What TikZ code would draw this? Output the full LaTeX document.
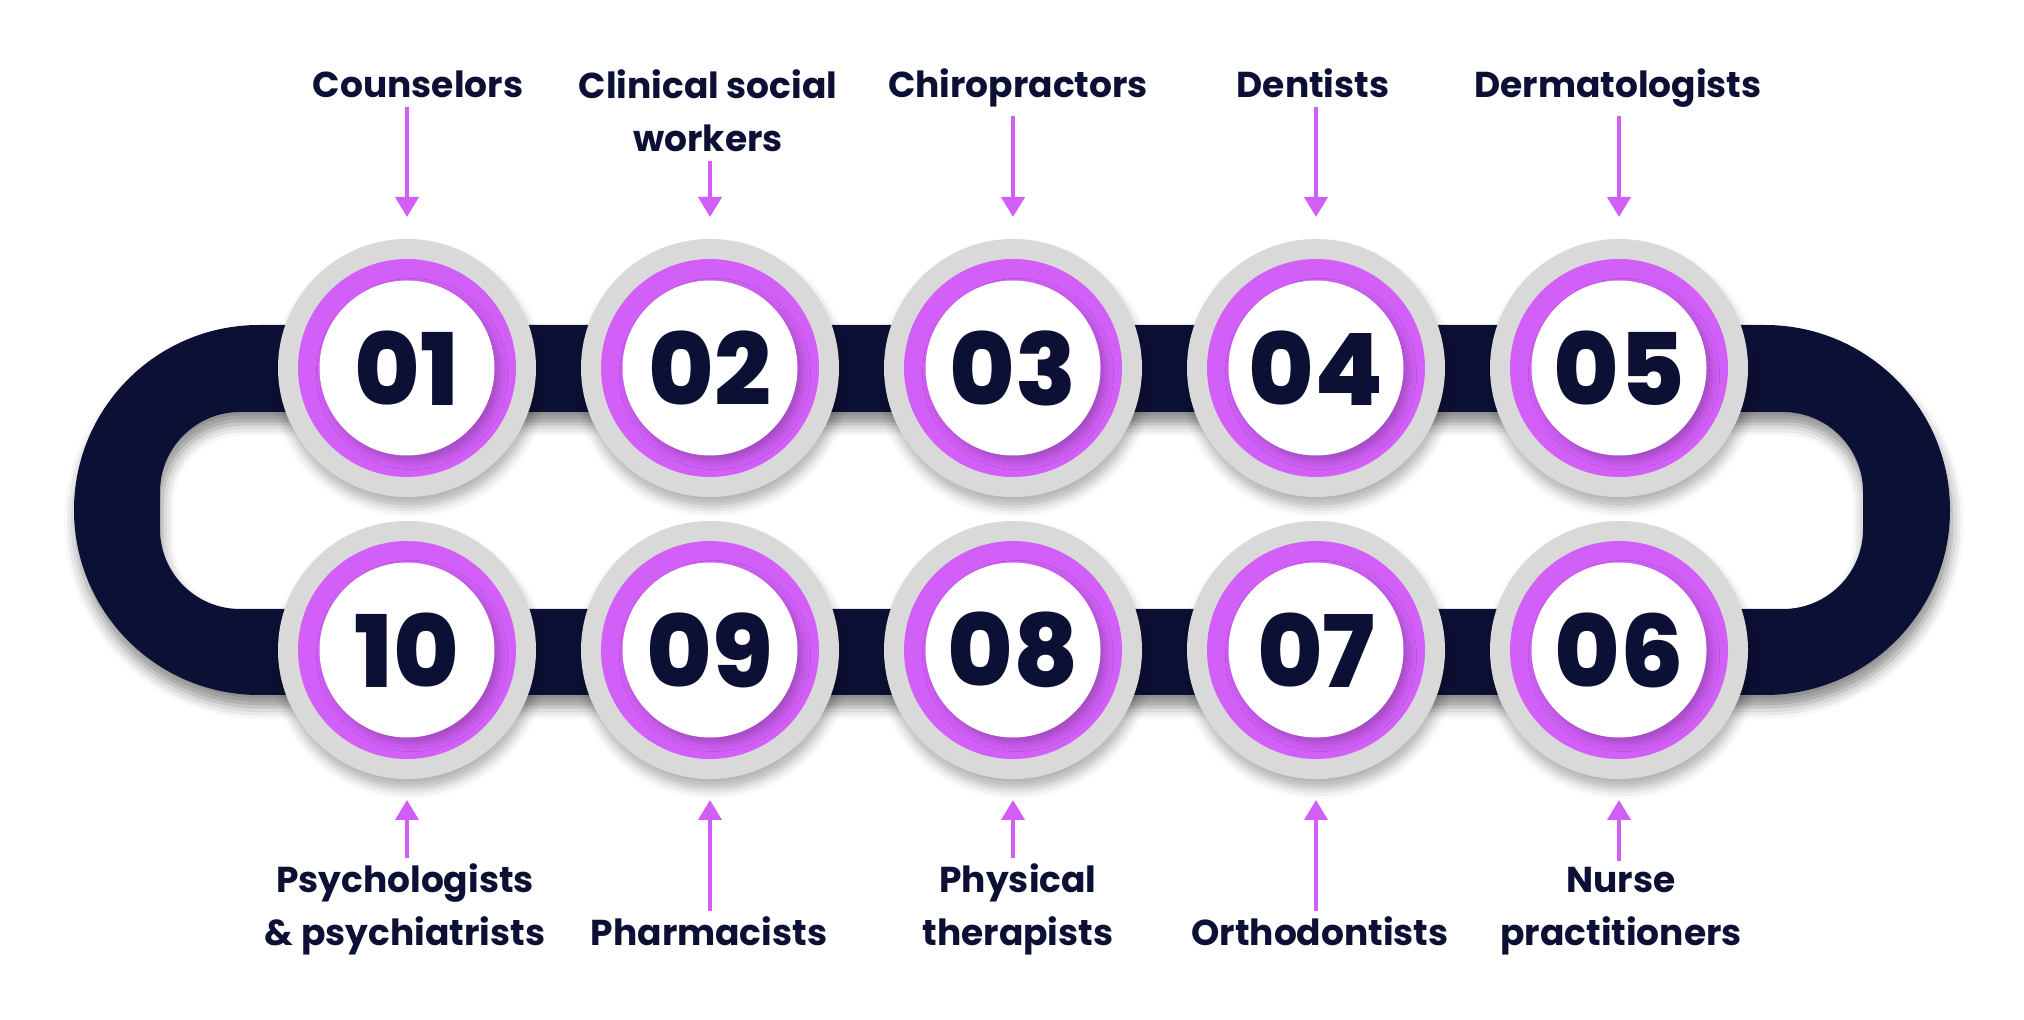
\documentclass[tikz,border=0pt]{standalone}
\usepackage{fontspec}
\setmainfont{Poppins}
\newfontfamily\digitfont{Poppins}[UprightFont={* ExtraBold}]
\usepackage{xcolor}
\usetikzlibrary{arrows.meta, shadows.blur}

\definecolor{navy}{HTML}{0D1035}
\definecolor{ringgrey}{HTML}{D9D9D9}
\definecolor{ringpurple}{HTML}{D260F8}
\definecolor{arrowpink}{HTML}{D25EF8}

\begin{document}
\begin{tikzpicture}[x=0.5pt,y=-0.5pt,
    outer/.style={circle,fill=ringgrey,minimum size=129pt,inner sep=0pt,outer sep=0pt,
      blur shadow={shadow xshift=1pt,shadow yshift=-5pt,shadow blur radius=5pt,shadow opacity=30}},
    ring/.style={circle,fill=ringpurple,minimum size=109pt,inner sep=0pt},
    face/.style={circle,fill=white,minimum size=87.5pt,inner sep=0pt,text=navy,
      font=\digitfont\fontsize{50}{50}\selectfont,
      blur shadow={shadow xshift=2.5pt,shadow yshift=-3pt,shadow blur radius=4pt,shadow opacity=22}},
    label/.style={font=\bfseries\fontsize{18}{26.5}\selectfont,text=navy,align=center,inner sep=0pt,anchor=base},
    pointer/.style={draw=arrowpink,line width=2pt,-{Triangle[width=11.5pt,length=10pt]}}]
    \useasboundingbox (0,0) rectangle (2024,1020);

    % the loop behind the circles
    \fill[navy,even odd rule,
      blur shadow={shadow xshift=1pt,shadow yshift=-6pt,shadow blur radius=6pt,shadow opacity=45}]
      (259,325) -- (1765,325) arc[start angle=-90,end angle=90,radius=185]
      -- (259,695) arc[start angle=90,end angle=270,radius=185] -- cycle
      {[rounded corners=40pt] (160,412) rectangle (1863,609)};

    % top row
    \node[outer] (c1) at (407,368) {};
    \node[ring] at (c1) {};
    \node[face] at (c1) {01};
    \node[outer] (c2) at (710,368) {};
    \node[ring] at (c2) {};
    \node[face] at (c2) {02};
    \node[outer] (c3) at (1013,368) {};
    \node[ring] at (c3) {};
    \node[face] at (c3) {03};
    \node[outer] (c4) at (1316,368) {};
    \node[ring] at (c4) {};
    \node[face] at (c4) {04};
    \node[outer] (c5) at (1619,368) {};
    \node[ring] at (c5) {};
    \node[face] at (c5) {05};

    % bottom row
    \node[outer] (c6) at (1619,650) {};
    \node[ring] at (c6) {};
    \node[face] at (c6) {06};
    \node[outer] (c7) at (1316,650) {};
    \node[ring] at (c7) {};
    \node[face] at (c7) {07};
    \node[outer] (c8) at (1013,650) {};
    \node[ring] at (c8) {};
    \node[face] at (c8) {08};
    \node[outer] (c9) at (710,650) {};
    \node[ring] at (c9) {};
    \node[face] at (c9) {09};
    \node[outer] (c10) at (407,650) {};
    \node[ring] at (c10) {};
    \node[face] at (c10) {10};

    % labels
    \node[label] (l1) at (418,98) {Counselors};
    \node[label] (l2) at (708,152) {Clinical social\\workers};
    \node[label] (l3) at (1018,98) {Chiropractors};
    \node[label] (l4) at (1313,98) {Dentists};
    \node[label] (l5) at (1618,98) {Dermatologists};
    \node[label] (l6) at (1621,945) {Nurse\\practitioners};
    \node[label] (l7) at (1320,945) {Orthodontists};
    \node[label] (l8) at (1018,945) {Physical\\therapists};
    \node[label] (l9) at (709,945) {Pharmacists};
    \node[label] (l10) at (405,945) {Psychologists\\\& psychiatrists};

    % arrows
    \draw[pointer,shorten <=4pt,shorten >=11pt] (c1 |- l1.south) -- (c1.north);
    \draw[pointer,shorten <=4pt,shorten >=11pt] (c2 |- l2.south) -- (c2.north);
    \draw[pointer,shorten <=4pt,shorten >=11pt] (c3 |- l3.south) -- (c3.north);
    \draw[pointer,shorten <=4pt,shorten >=11pt] (c4 |- l4.south) -- (c4.north);
    \draw[pointer,shorten <=4pt,shorten >=11pt] (c5 |- l5.south) -- (c5.north);
    \draw[pointer,shorten <=2.5pt,shorten >=10.5pt] (c6 |- l6.north) -- (c6.south);
    \draw[pointer,shorten <=2.5pt,shorten >=10.5pt] (c7 |- l7.north) -- (c7.south);
    \draw[pointer,shorten <=2.5pt,shorten >=10.5pt] (c8 |- l8.north) -- (c8.south);
    \draw[pointer,shorten <=2.5pt,shorten >=10.5pt] (c9 |- l9.north) -- (c9.south);
    \draw[pointer,shorten <=2.5pt,shorten >=10.5pt] (c10 |- l10.north) -- (c10.south);
\end{tikzpicture}
\end{document}
